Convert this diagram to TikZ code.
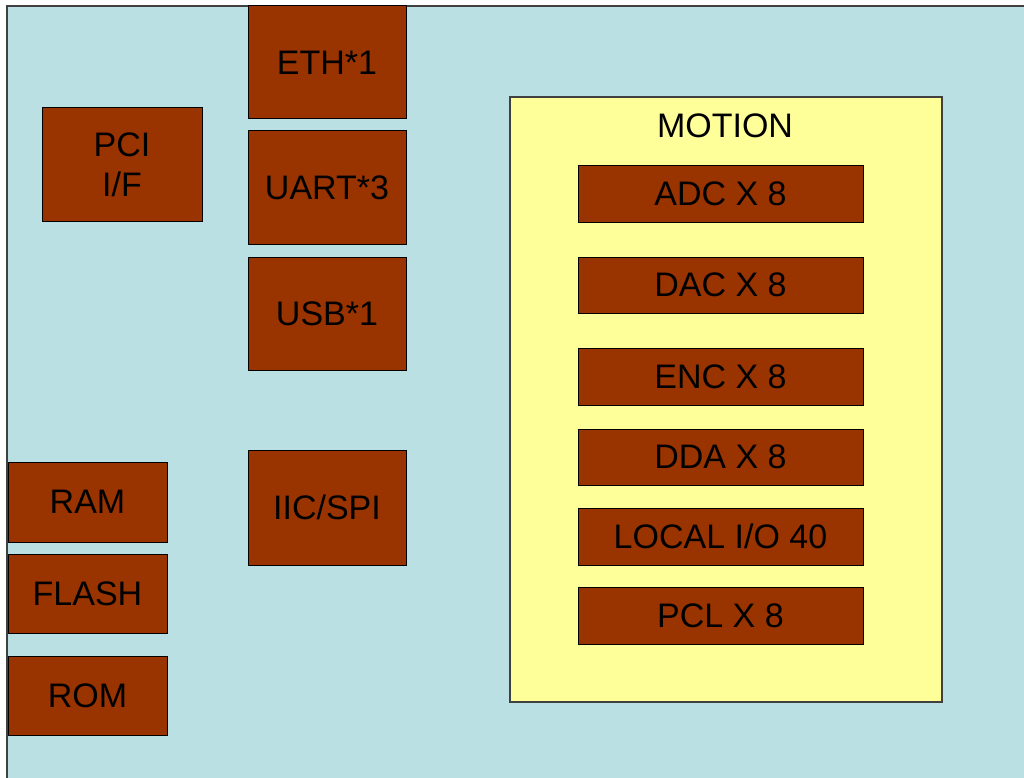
\documentclass[tikz,border=0pt]{standalone}
\usepackage{fontspec}
\setmainfont{Liberation Sans}
\definecolor{bgblue}{HTML}{BBE0E3}
\definecolor{brick}{HTML}{993300}
\definecolor{paleyellow}{HTML}{FFFF99}
\definecolor{edgegray}{HTML}{404040}
\begin{document}
\begin{tikzpicture}[x=1pt,y=-1pt,
  blockbox/.style={draw=black, line width=1pt, fill=brick, inner sep=0pt, outer sep=0pt,
    align=center, font=\fontsize{34}{40}\selectfont},
  groupbox/.style={draw=edgegray, line width=1.5pt, fill=paleyellow, inner sep=0pt, outer sep=0pt}]
\useasboundingbox (0,0) rectangle (1024,778);
% background panel
\fill[bgblue] (7,6) rectangle (1024,778);
\draw[edgegray, line width=1.5pt] (7,778) -- (7,6) -- (1024,6);
% left column
\node[blockbox, minimum width=160pt, minimum height=113pt] (pci) at (122,164.5) {PCI\\I/F};
\node[blockbox, minimum width=159pt, minimum height=80pt] (ram) at (87.5,502) {RAM};
\node[blockbox, minimum width=159pt, minimum height=79pt] (flash) at (87.5,593.5) {FLASH};
\node[blockbox, minimum width=159pt, minimum height=79pt] (rom) at (87.5,695.5) {ROM};
% middle column
\node[blockbox, minimum width=158pt, minimum height=113pt] (eth) at (327,62.5) {ETH*1};
\node[blockbox, minimum width=158pt, minimum height=113pt] (uart) at (327,187.5) {UART*3};
\node[blockbox, minimum width=158pt, minimum height=113pt] (usb) at (327,313.5) {USB*1};
\node[blockbox, minimum width=158pt, minimum height=115pt] (iic) at (327,507.5) {IIC/SPI};
% motion group
\node[groupbox, minimum width=432pt, minimum height=605pt] (motion) at (726,399.5) {};
\node[font=\fontsize{34}{40}\selectfont, inner sep=0pt] (motionlabel) at (725,126) {MOTION};
\node[blockbox, minimum width=285pt, minimum height=56pt] (adc) at (720.5,194) {ADC X 8};
\node[blockbox, minimum width=285pt, minimum height=56pt] (dac) at (720.5,285) {DAC X 8};
\node[blockbox, minimum width=285pt, minimum height=57pt] (enc) at (720.5,376.5) {ENC X 8};
\node[blockbox, minimum width=285pt, minimum height=56pt] (dda) at (720.5,457) {DDA X 8};
\node[blockbox, minimum width=285pt, minimum height=57pt] (lio) at (720.5,536.5) {LOCAL I/O 40};
\node[blockbox, minimum width=285pt, minimum height=57pt] (pcl) at (720.5,615.5) {PCL X 8};
\end{tikzpicture}
\end{document}
